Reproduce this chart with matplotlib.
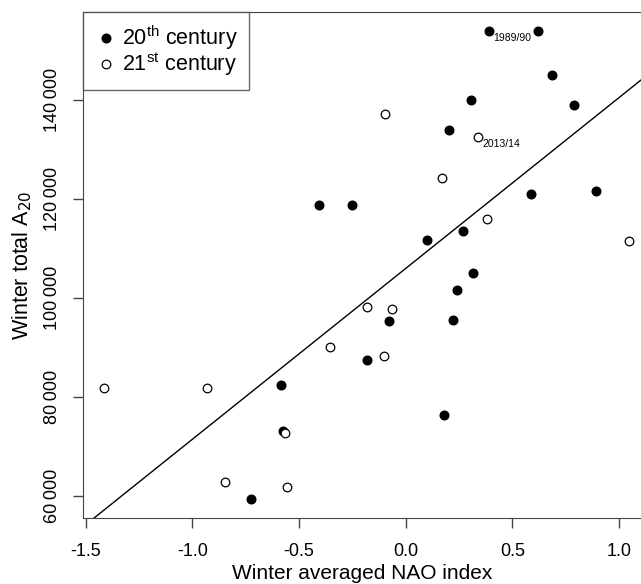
import matplotlib.pyplot as plt
import numpy as np

plt.rcParams['font.family'] = ['Liberation Sans', 'DejaVu Sans']

# 20th century winters
nao_20 = [0.391, 0.619, 0.684, 0.305, 0.789, 0.204, -0.408, -0.252, 0.587, 0.891,
          0.269, 0.098, 0.317, 0.239, 0.222, -0.078, -0.180, 0.180, -0.587, -0.577, -0.725]
a20_20 = [154000, 153940, 144990, 139940, 138990, 134000, 118850, 118850, 121070, 121620,
          113535, 111650, 105050, 101680, 95555, 95290, 87410, 76360, 82420, 73200, 59330]

# 21st century winters
nao_21 = [-0.096, 0.341, 0.172, 0.381, 1.048, -0.180, -0.064, -0.353, -0.102,
          -1.414, -0.930, -0.566, -0.849, -0.555]
a20_21 = [137230, 132525, 124240, 115960, 111570, 98120, 97780, 90040, 88340,
          81750, 81750, 72790, 62830, 61880]

# labelled winters
labels = ["1989/90", "2013/14"]
label_x = [0.391, 0.341]
label_y = [154000, 132525]

# fitted line
intercept = 105976
slope = 34510

xticks = [-1.5, -1.0, -0.5, 0.0, 0.5, 1.0]
yticks = [60000, 80000, 100000, 120000, 140000]

fig = plt.figure(figsize=(6.41, 5.84), dpi=100)
W, H = 641, 584
ax = fig.add_axes([83 / W, 1 - 518 / H, (W - 83) / W, (518 - 12) / H])

ax.plot(nao_20, a20_20, 'o', color='black', markersize=6.2, label='20$^{\\mathregular{th}}$ century')
ax.plot(nao_21, a20_21, 'o', markerfacecolor='white', markeredgecolor='black',
        markeredgewidth=0.9, markersize=6.2, label='21$^{\\mathregular{st}}$ century')

xs = np.array([-1.6, 1.2])
ax.plot(xs, intercept + slope * xs, color='black', linewidth=1)

for t, x, y in zip(labels, label_x, label_y):
    ax.annotate(t, (x, y), xytext=(3, -5), textcoords='offset points',
                fontsize=7.5, va='center', ha='left')

ax.set_xlim(-1.513, 1.103)
ax.set_ylim(55556, 157778)
ax.spines['right'].set_visible(False)
for s in ax.spines.values():
    s.set_color('#444444')

ax.set_xticks(xticks)
ax.set_xticklabels([f"{v:.1f}" for v in xticks], fontsize=13)
ax.set_yticks(yticks)
ax.set_yticklabels([f"{v:,}".replace(",", "\u2009") for v in yticks],
                   fontsize=13, rotation=90, va='center')
ax.tick_params(length=7.2, width=1, color='#444444')
ax.tick_params(axis='x', pad=11)
ax.tick_params(axis='y', pad=9)

ax.set_xlabel("Winter averaged NAO index", fontsize=15, labelpad=3)
ax.set_ylabel("Winter total A$_{20}$", fontsize=15.5, labelpad=7)

leg = ax.legend(loc='upper left', fontsize=15.5, frameon=True, fancybox=False,
                borderaxespad=0, handletextpad=0.25, handlelength=1.0,
                labelspacing=-0.1, borderpad=0.55)
leg.get_frame().set_edgecolor('#444444')
leg.get_frame().set_linewidth(1)

plt.savefig('out.png', dpi=100)
